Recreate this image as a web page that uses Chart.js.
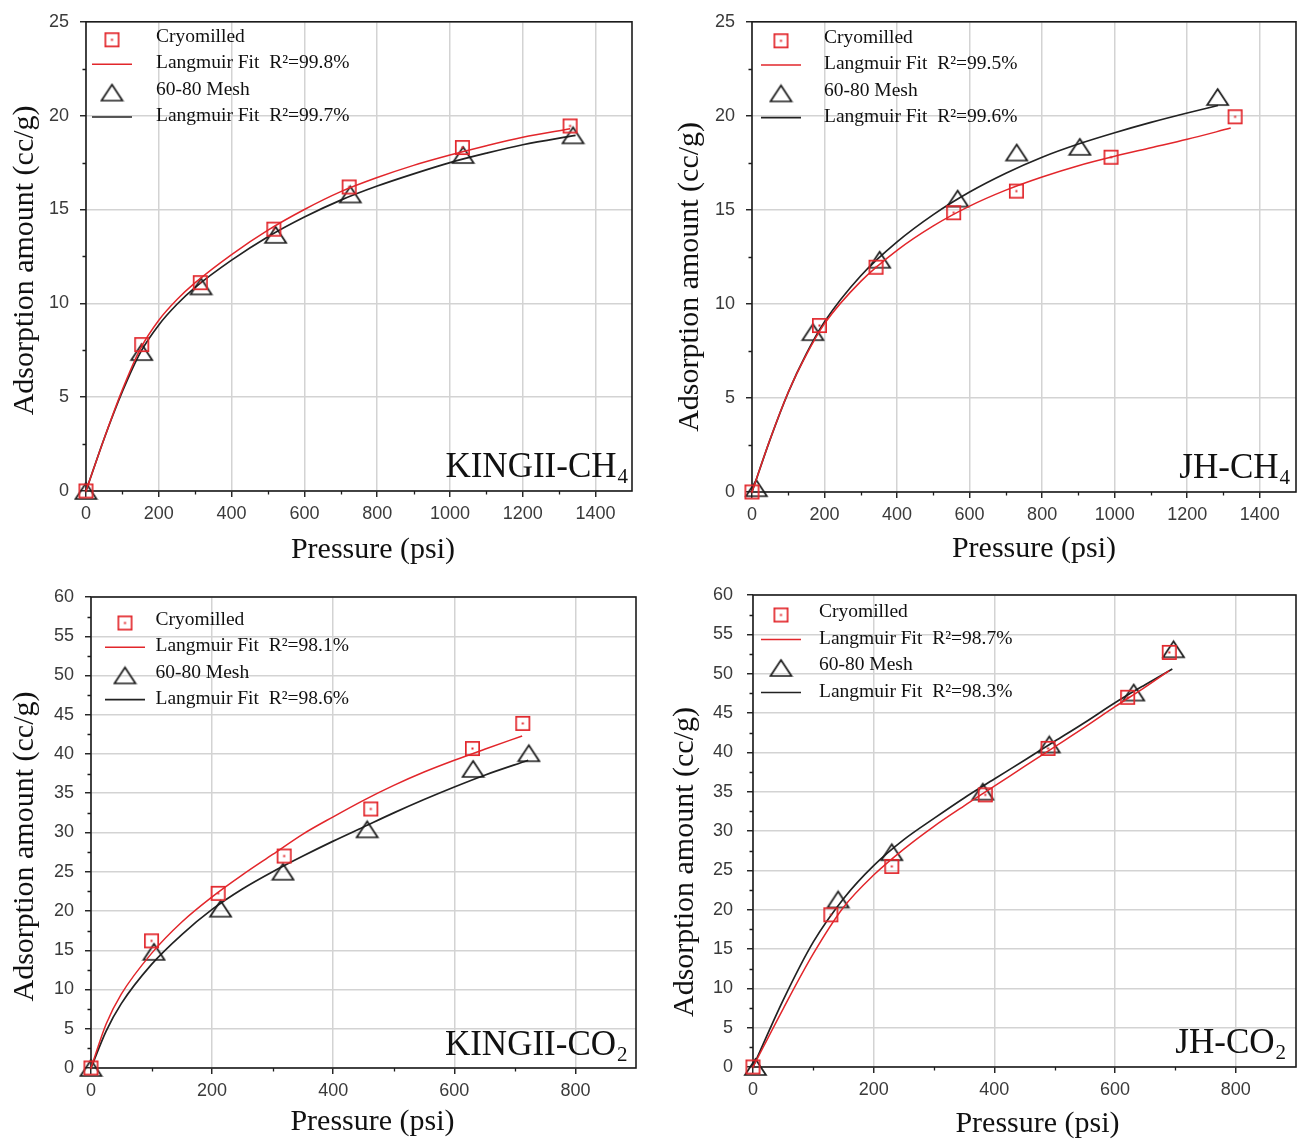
<!DOCTYPE html>
<html>
<head>
<meta charset="utf-8">
<title>Adsorption isotherms</title>
<script src="https://cdn.jsdelivr.net/npm/chart.js@4.4.1/dist/chart.umd.min.js"></script>
<style>
  html, body { margin: 0; padding: 0; background: #fff; }
  #wrap { position: relative; width: 1306px; height: 1140px; }
  #wrap canvas { position: absolute; }
</style>
</head>
<body>
<div id="wrap">
  <canvas id="kingCh4" width="653" height="570" style="left:0;top:0"></canvas>
  <canvas id="jhCh4" width="653" height="570" style="left:653px;top:0"></canvas>
  <canvas id="kingCo2" width="653" height="570" style="left:0;top:570px"></canvas>
  <canvas id="jhCo2" width="653" height="570" style="left:653px;top:570px"></canvas>
</div>
<script>
const RED = '#e2262b';
const BLACK = '#1c1c1c';
const SERIF = '"Liberation Serif", "Times New Roman", serif';
const SANS = '"Liberation Sans", Arial, sans-serif';

// axis ticks
const ch4PressureTicks = [0, 200, 400, 600, 800, 1000, 1200, 1400];
const ch4AmountTicks = [0, 5, 10, 15, 20, 25];
const co2PressureTicks = [0, 200, 400, 600, 800];
const co2AmountTicks = [0, 5, 10, 15, 20, 25, 30, 35, 40, 45, 50, 55, 60];

// KINGII - CH4
const kingCh4CryoP = [0, 153, 314, 516, 723, 1034, 1330];
const kingCh4CryoV = [0, 7.8, 11.1, 13.95, 16.2, 18.3, 19.45];
const kingCh4MeshP = [0, 153, 316, 521, 726, 1036, 1338];
const kingCh4MeshV = [0, 7.4, 10.9, 13.65, 15.8, 17.9, 18.95];
const kingCh4CryoFitP = [0, 50, 100, 150, 200, 250, 300, 400, 500, 600, 700, 800, 900, 1000, 1100, 1200, 1330];
const kingCh4CryoFitV = [0, 2.8, 5.4, 7.6, 9.1, 10.2, 11.1, 12.6, 13.9, 15.0, 15.95, 16.7, 17.35, 17.9, 18.4, 18.85, 19.3];
const kingCh4MeshFitP = [0, 50, 100, 150, 200, 250, 300, 400, 500, 600, 700, 800, 900, 1000, 1100, 1200, 1345];
const kingCh4MeshFitV = [0, 2.8, 5.3, 7.4, 8.85, 9.95, 10.85, 12.3, 13.55, 14.6, 15.5, 16.25, 16.9, 17.5, 18.0, 18.45, 18.95];
const kingCh4Labels = ['Cryomilled', 'Langmuir Fit  R²=99.8%', '60-80 Mesh', 'Langmuir Fit  R²=99.7%'];

// JH - CH4
const jhCh4CryoP = [0, 186, 342, 556, 729, 990, 1332];
const jhCh4CryoV = [0, 8.85, 11.95, 14.85, 16.0, 17.8, 19.95];
const jhCh4MeshP = [12, 168, 352, 567, 730, 904, 1284];
const jhCh4MeshV = [0.2, 8.5, 12.35, 15.6, 18.05, 18.35, 21.0];
const jhCh4CryoFitP = [0, 50, 100, 150, 200, 300, 400, 500, 600, 700, 800, 900, 1000, 1100, 1200, 1320];
const jhCh4CryoFitV = [0, 2.8, 5.3, 7.3, 8.95, 11.2, 12.85, 14.15, 15.2, 16.05, 16.75, 17.35, 17.85, 18.3, 18.75, 19.35];
const jhCh4MeshFitP = [0, 50, 100, 150, 200, 300, 400, 500, 600, 700, 800, 900, 1000, 1100, 1200, 1285];
const jhCh4MeshFitV = [0, 2.8, 5.3, 7.35, 9.05, 11.5, 13.3, 14.75, 15.95, 16.95, 17.8, 18.5, 19.1, 19.65, 20.15, 20.55];
const jhCh4Labels = ['Cryomilled', 'Langmuir Fit  R²=99.5%', '60-80 Mesh', 'Langmuir Fit  R²=99.6%'];

// KINGII - CO2
const kingCo2CryoP = [0, 100, 210, 319, 462, 630, 713];
const kingCo2CryoV = [0, 16.2, 22.25, 27.0, 33.0, 40.7, 43.9];
const kingCo2MeshP = [0, 104, 214, 317, 456, 631, 723];
const kingCo2MeshV = [0, 14.8, 20.3, 25.0, 30.4, 38.1, 40.1];
const kingCo2CryoFitP = [0, 25, 50, 100, 150, 200, 250, 300, 350, 400, 450, 500, 550, 600, 650, 712];
const kingCo2CryoFitV = [0, 5.6, 9.4, 14.6, 18.6, 21.8, 24.6, 27.2, 29.8, 32.0, 34.1, 36.0, 37.7, 39.2, 40.6, 42.3];
const kingCo2MeshFitP = [0, 25, 50, 100, 150, 200, 250, 300, 350, 400, 450, 500, 550, 600, 650, 722];
const kingCo2MeshFitV = [0, 4.7, 8.2, 13.2, 17.0, 20.2, 22.8, 25.0, 27.0, 28.9, 30.7, 32.5, 34.2, 35.8, 37.3, 39.2];
const kingCo2Labels = ['Cryomilled', 'Langmuir Fit  R²=98.1%', '60-80 Mesh', 'Langmuir Fit  R²=98.6%'];

// JH - CO2
const jhCo2CryoP = [0, 129, 230, 385, 489, 621, 690];
const jhCo2CryoV = [0, 19.35, 25.5, 34.6, 40.5, 47.0, 52.7];
const jhCo2MeshP = [4, 141, 230, 381, 491, 631, 697];
const jhCo2MeshV = [0, 21.3, 27.3, 35.0, 41.0, 47.6, 53.1];
const jhCo2CryoFitP = [0, 50, 100, 150, 200, 250, 300, 350, 400, 450, 500, 550, 600, 650, 690];
const jhCo2CryoFitV = [0, 7.4, 14.4, 20.3, 24.4, 27.7, 30.6, 33.2, 35.7, 38.2, 40.7, 43.2, 45.8, 48.3, 50.4];
const jhCo2MeshFitP = [0, 50, 100, 150, 200, 250, 300, 350, 400, 450, 500, 550, 600, 650, 695];
const jhCo2MeshFitV = [0, 8.5, 15.9, 21.4, 25.6, 28.9, 31.6, 34.2, 36.6, 39.0, 41.4, 43.8, 46.3, 48.6, 50.6];
const jhCo2Labels = ['Cryomilled', 'Langmuir Fit  R²=98.7%', '60-80 Mesh', 'Langmuir Fit  R²=98.3%'];

const xTitle = 'Pressure (psi)';
const yTitle = 'Adsorption amount (cc/g)';

// hollow square with a centre dot, used for the cryomilled samples
function squareMark(side) {
  const c = document.createElement('canvas');
  c.width = c.height = side + 2;
  const g = c.getContext('2d');
  g.strokeStyle = RED;
  g.lineWidth = 1.7;
  g.strokeRect(1.85, 1.85, side - 1.7, side - 1.7);
  g.fillStyle = RED;
  g.fillRect(c.width / 2 - 1, c.height / 2 - 1, 2, 2);
  return c;
}

// hollow triangle for the 60-80 mesh samples
function triangleMark(w, h) {
  const c = document.createElement('canvas');
  c.width = w + 4;
  c.height = h + 4;
  const g = c.getContext('2d');
  g.strokeStyle = BLACK;
  g.lineWidth = 1.7;
  g.beginPath();
  g.moveTo(c.width / 2, 2);
  g.lineTo(c.width - 2, c.height - 2);
  g.lineTo(2, c.height - 2);
  g.closePath();
  g.stroke();
  return c;
}

const squareIcon = squareMark(15);
const triangleIcon = triangleMark(21, 16);

function toPoints(xs, ys) {
  return xs.map((x, i) => ({ x, y: ys[i] }));
}

function markerSet(label, xs, ys, icon) {
  return {
    label, data: toPoints(xs, ys), pointStyle: icon,
    pointRadius: 9, pointHoverRadius: 9, showLine: false, clip: false
  };
}

function fitSet(label, xs, ys, color, width) {
  return {
    label, data: toPoints(xs, ys), showLine: true, borderColor: color,
    borderWidth: width, pointRadius: 0, pointHoverRadius: 0,
    cubicInterpolationMode: 'monotone', fill: false, clip: false
  };
}

// box around the plot plus the short unlabelled ticks between the labelled ones
const frame = {
  id: 'frame',
  beforeDatasetsDraw(chart, args, o) {
    const { ctx, chartArea: a, scales: { x, y } } = chart;
    ctx.save();
    ctx.strokeStyle = BLACK;
    ctx.lineWidth = 1.3;
    ctx.beginPath();
    for (let v = o.xMinor; v < x.max; v += 2 * o.xMinor) {
      const px = Math.round(x.getPixelForValue(v)) + 0.5;
      ctx.moveTo(px, a.bottom);
      ctx.lineTo(px, a.bottom + 3.5);
    }
    for (let v = o.yMinor; v < y.max; v += 2 * o.yMinor) {
      const py = Math.round(y.getPixelForValue(v)) + 0.5;
      ctx.moveTo(a.left, py);
      ctx.lineTo(a.left - 3.5, py);
    }
    ctx.stroke();
    ctx.lineWidth = 1.6;
    ctx.strokeRect(a.left, a.top, a.right - a.left, a.bottom - a.top);
    ctx.restore();
  }
};

// axis titles, nudged per panel
const axisTitles = {
  id: 'axisTitles',
  afterDraw(chart, args, o) {
    const { ctx, chartArea: a } = chart;
    ctx.save();
    ctx.font = '30px ' + SERIF;
    ctx.fillStyle = '#111';
    ctx.textAlign = 'center';
    ctx.textBaseline = 'middle';
    ctx.fillText(xTitle, (a.left + a.right) / 2 + o.xShift, o.xY);
    ctx.translate(o.yX, (a.top + a.bottom) / 2 + o.yShift);
    ctx.rotate(-Math.PI / 2);
    ctx.fillText(yTitle, 0, 0);
    ctx.restore();
  }
};

// legend in the top-left corner of the plot
const seriesKey = {
  id: 'seriesKey',
  afterDatasetsDraw(chart, args, o) {
    const { ctx, chartArea: a } = chart;
    ctx.save();
    ctx.font = '19.5px ' + SERIF;
    ctx.fillStyle = '#111';
    ctx.textBaseline = 'middle';
    chart.data.datasets.forEach((ds, i) => {
      const y = a.top + o.rowY + i * o.gap;
      const mx = a.left + o.markerX;
      if (ds.showLine) {
        ctx.strokeStyle = ds.borderColor;
        ctx.lineWidth = ds.borderWidth;
        ctx.beginPath();
        ctx.moveTo(mx - 20, y + 1);
        ctx.lineTo(mx + 20, y + 1);
        ctx.stroke();
      } else {
        const icon = ds.pointStyle;
        ctx.drawImage(icon, mx - icon.width / 2, y + 3 - icon.height / 2);
      }
      ctx.fillText(ds.label, a.left + o.textX, y);
    });
    ctx.restore();
  }
};

// sample / gas name with subscript in the lower-right corner
const panelName = {
  id: 'panelName',
  afterDatasetsDraw(chart, args, o) {
    const { ctx, chartArea: a } = chart;
    ctx.save();
    ctx.fillStyle = '#111';
    ctx.textBaseline = 'alphabetic';
    ctx.font = '35px ' + SERIF;
    const mainW = ctx.measureText(o.text).width;
    ctx.font = '21px ' + SERIF;
    const subW = ctx.measureText(o.sub).width;
    const right = a.right - o.right;
    const base = a.bottom - o.bottom;
    ctx.fillText(o.sub, right - subW, base + 6);
    ctx.font = '35px ' + SERIF;
    ctx.fillText(o.text, right - subW - mainW - 1, base);
    ctx.restore();
  }
};

function buildPanel(id, p) {
  const canvas = document.getElementById(id);
  const W = canvas.width, H = canvas.height;
  const tickFont = { family: SANS, size: 18 };
  return new Chart(canvas, {
    type: 'scatter',
    data: {
      datasets: [
        markerSet(p.labels[0], p.cryo[0], p.cryo[1], squareIcon),
        fitSet(p.labels[1], p.cryoFit[0], p.cryoFit[1], RED, 1.5),
        markerSet(p.labels[2], p.mesh[0], p.mesh[1], triangleIcon),
        fitSet(p.labels[3], p.meshFit[0], p.meshFit[1], '#222', 1.7)
      ]
    },
    options: {
      responsive: false,
      animation: false,
      events: [],
      layout: { padding: { top: p.area.top, right: W - p.area.right, left: 0, bottom: 0 } },
      scales: {
        x: {
          type: 'linear', min: 0, max: p.xMax,
          afterBuildTicks: s => { s.ticks = p.xTicks.map(value => ({ value })); },
          afterFit: s => { s.height = H - p.area.bottom; },
          ticks: { color: '#3a3a3a', font: tickFont, padding: 6, maxRotation: 0, autoSkip: false,
                   callback: v => String(v) },
          grid: { color: '#d3d3d3', lineWidth: 1.5, tickLength: 6, tickColor: BLACK, tickWidth: 1.4 },
          border: { display: false }
        },
        y: {
          type: 'linear', min: 0, max: p.yMax,
          afterBuildTicks: s => { s.ticks = p.yTicks.map(value => ({ value })); },
          afterFit: s => { s.width = p.area.left; },
          ticks: { color: '#3a3a3a', font: tickFont, padding: p.yTickPad, autoSkip: false,
                   callback: v => String(v) },
          grid: { color: '#d3d3d3', lineWidth: 1.5, tickLength: 6, tickColor: BLACK, tickWidth: 1.4 },
          border: { display: false }
        }
      },
      plugins: {
        legend: { display: false },
        tooltip: { enabled: false },
        frame: { xMinor: p.xTicks[1] / 2, yMinor: p.yTicks[1] / 2 },
        axisTitles: p.titles,
        seriesKey: p.key,
        panelName: p.name
      }
    },
    plugins: [frame, axisTitles, seriesKey, panelName]
  });
}

buildPanel('kingCh4', {
  cryo: [kingCh4CryoP, kingCh4CryoV], cryoFit: [kingCh4CryoFitP, kingCh4CryoFitV],
  mesh: [kingCh4MeshP, kingCh4MeshV], meshFit: [kingCh4MeshFitP, kingCh4MeshFitV],
  labels: kingCh4Labels,
  xMax: 1500, yMax: 25, xTicks: ch4PressureTicks, yTicks: ch4AmountTicks,
  area: { left: 86, top: 17, right: 632, bottom: 491 },
  yTickPad: 11,
  titles: { xShift: 14, xY: 550, yX: 25, yShift: 4 },
  key: { markerX: 26, textX: 70, rowY: 15, gap: 26.4 },
  name: { text: 'KINGII-CH', sub: '4', right: 4, bottom: 14 }
});

buildPanel('jhCh4', {
  cryo: [jhCh4CryoP, jhCh4CryoV], cryoFit: [jhCh4CryoFitP, jhCh4CryoFitV],
  mesh: [jhCh4MeshP, jhCh4MeshV], meshFit: [jhCh4MeshFitP, jhCh4MeshFitV],
  labels: jhCh4Labels,
  xMax: 1500, yMax: 25, xTicks: ch4PressureTicks, yTicks: ch4AmountTicks,
  area: { left: 99, top: 20, right: 645, bottom: 492 },
  yTickPad: 11,
  titles: { xShift: 10, xY: 549, yX: 37, yShift: 20 },
  key: { markerX: 29, textX: 72, rowY: 16, gap: 26.3 },
  name: { text: 'JH-CH', sub: '4', right: 6, bottom: 14.5 }
});

buildPanel('kingCo2', {
  cryo: [kingCo2CryoP, kingCo2CryoV], cryoFit: [kingCo2CryoFitP, kingCo2CryoFitV],
  mesh: [kingCo2MeshP, kingCo2MeshV], meshFit: [kingCo2MeshFitP, kingCo2MeshFitV],
  labels: kingCo2Labels,
  xMax: 900, yMax: 60, xTicks: co2PressureTicks, yTicks: co2AmountTicks,
  area: { left: 91, top: 27, right: 636, bottom: 498 },
  yTickPad: 11,
  titles: { xShift: 9, xY: 552, yX: 25, yShift: 14 },
  key: { markerX: 34, textX: 64.5, rowY: 23, gap: 26.2 },
  name: { text: 'KINGII-CO', sub: '2', right: 8.5, bottom: 12.6 }
});

buildPanel('jhCo2', {
  cryo: [jhCo2CryoP, jhCo2CryoV], cryoFit: [jhCo2CryoFitP, jhCo2CryoFitV],
  mesh: [jhCo2MeshP, jhCo2MeshV], meshFit: [jhCo2MeshFitP, jhCo2MeshFitV],
  labels: jhCo2Labels,
  xMax: 900, yMax: 60, xTicks: co2PressureTicks, yTicks: co2AmountTicks,
  area: { left: 100, top: 25, right: 648, bottom: 497 },
  yTickPad: 14,
  titles: { xShift: 13, xY: 554, yX: 32, yShift: 31 },
  key: { markerX: 28, textX: 66, rowY: 17, gap: 26.5 },
  name: { text: 'JH-CO', sub: '2', right: 10, bottom: 14.5 }
});
</script>
</body>
</html>
